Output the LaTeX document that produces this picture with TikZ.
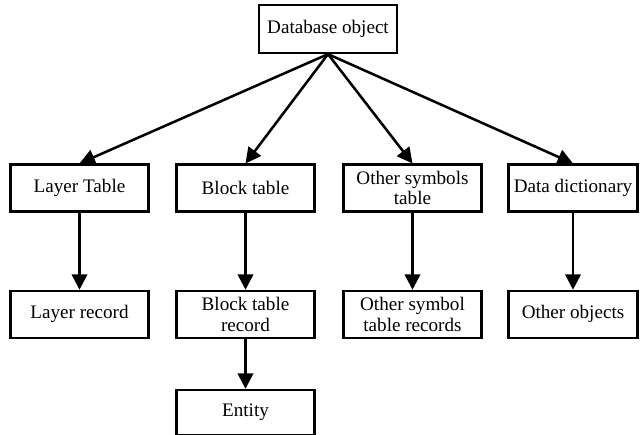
\documentclass[tikz,border=0pt]{standalone}
\usepackage{fontspec}
\setmainfont{Liberation Serif}
\usetikzlibrary{positioning}
\usetikzlibrary{arrows.meta}
\tikzset{%
  b/.style = {rectangle,draw,line width=1.6pt,minimum width=3.45cm,
        minimum height=1.17cm,align=center,inner sep=1pt,
        font=\fontsize{13.6}{14.5}\selectfont},
  nb/.style = {b,minimum width=3.22cm},
  downarrow/.style = {-{Triangle[width=11pt,length=11pt]},line width=1.8pt}
}

\begin{document}
\begin{tikzpicture}[x=0.025cm,y=-0.025cm,node distance=1.93cm]
   \useasboundingbox (0,0) rectangle (640,435);
   \node[b,minimum height=1.2cm] (db) at (328,29) {Database object};

   \node[b] (layer) at (79.5,188) {Layer Table};
   \node[b] (block) at (245.5,188) {Block table};
   \node[b] (other) at (412.5,188) {Other symbols\\table};
   \node[nb] (dict) at (573,188) {Data dictionary};

   \node[b] (layer-rec) [below=of layer] {Layer record};
   \node[b] (block-rec) [below=of block] {Block table\\record};
   \node[b] (other-rec) [below=of other] {Other symbol\\table records};
   \node[nb] (dict-obj) [below=of dict] {Other objects};
   \node[b,minimum height=1.12cm] (entity) [below=1.25cm of block-rec] {Entity};

   \draw[downarrow] (db.south) -- (layer.north);
   \draw[downarrow] (db.south) -- (block.north);
   \draw[downarrow] (db.south) -- (other.north);
   \draw[downarrow] (db.south) -- (dict.north);

   \draw[downarrow] (layer) -- (layer-rec);
   \draw[downarrow] (block) -- (block-rec);
   \draw[downarrow] (other) -- (other-rec);
   \draw[downarrow] (dict) -- (dict-obj);
   \draw[downarrow] (block-rec) -- (entity);
\end{tikzpicture}
\end{document}
